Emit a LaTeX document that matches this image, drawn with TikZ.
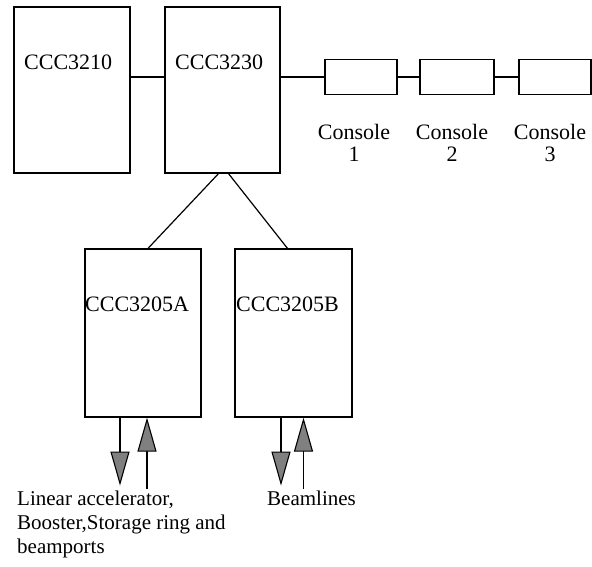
\documentclass[tikz,border=0pt]{standalone}
\usepackage{fontspec}
\setmainfont{Liberation Serif}
\usetikzlibrary{arrows.meta,calc}

\begin{document}
\begin{tikzpicture}[x=1pt,y=-1pt,
  crate/.style={draw,line width=1.2pt,inner sep=0pt},
  tag/.style={inner sep=0pt,font=\fontsize{22}{22}\selectfont},
  feed/.style={line width=1.1pt,-{Triangle[length=34pt,width=19pt,fill=black!50]}}]
\useasboundingbox (0,0) rectangle (592,567);

% crates
\node[crate,minimum width=116pt,minimum height=166pt] (c3210) at (72,90) {};
\node[crate,minimum width=115pt,minimum height=166pt] (c3230) at (222.5,90) {};
\node[crate,minimum width=116pt,minimum height=168pt] (c3205a) at (143,333) {};
\node[crate,minimum width=117pt,minimum height=168pt] (c3205b) at (293.5,333) {};
\node[tag,anchor=base west] (t3210) at (24,70) {CCC3210};
\node[tag,anchor=base west] (t3230) at (175,70) {CCC3230};
\node[tag,anchor=base west] (t3205a) at (85,311) {CCC3205A};
\node[tag,anchor=base west] (t3205b) at (236,311) {CCC3205B};

% consoles
\node[crate,minimum width=72pt,minimum height=35pt] (con1) at (361,77) {};
\node[crate,minimum width=74pt,minimum height=35pt] (con2) at (457,77) {};
\node[crate,minimum width=72pt,minimum height=35pt] (con3) at (555,77) {};
\node[tag,anchor=north,align=center] (l1) at (354,124) {Console\\1};
\node[tag,anchor=north,align=center] (l2) at (452,124) {Console\\2};
\node[tag,anchor=north,align=center] (l3) at (550,124) {Console\\3};

\draw[line width=1.2pt] (c3210.east |- con1.west) -- (c3230.west |- con1.west);
\draw[line width=1.2pt] (c3230.east |- con1.west) -- (con1.west);
\draw[line width=1.2pt] (con1.east) -- (con2.west);
\draw[line width=1.2pt] (con2.east) -- (con3.west);
\draw[line width=1.2pt] ($(c3230.south)+(-4,0)$) -- ($(c3205a.north)+(5,0)$);
\draw[line width=1.2pt] ($(c3230.south)+(6,0)$) -- ($(c3205b.north)+(-6,0)$);

% links to the machine and the beamlines
\coordinate (aout) at ($(c3205a.south)+(-23,68)$);
\coordinate (ain) at ($(c3205a.south)+(4,71)$);
\coordinate (bout) at ($(c3205b.south)+(-12.5,68)$);
\coordinate (bin) at ($(c3205b.south)+(10,71)$);
\draw[feed] (c3205a.south -| aout) -- (aout);
\draw[feed] (ain) -- (c3205a.south -| ain);
\draw[feed] (c3205b.south -| bout) -- (bout);
\draw[feed] (bin) -- (c3205b.south -| bin);

\node[anchor=north west,inner sep=0pt,align=left,font=\fontsize{21}{24}\selectfont] (mach) at (17,491)
  {Linear accelerator,\\Booster,Storage ring and\\beamports};
\node[anchor=north west,inner sep=0pt,font=\fontsize{21}{24}\selectfont] (beam) at (267,491) {Beamlines};
\end{tikzpicture}
\end{document}
